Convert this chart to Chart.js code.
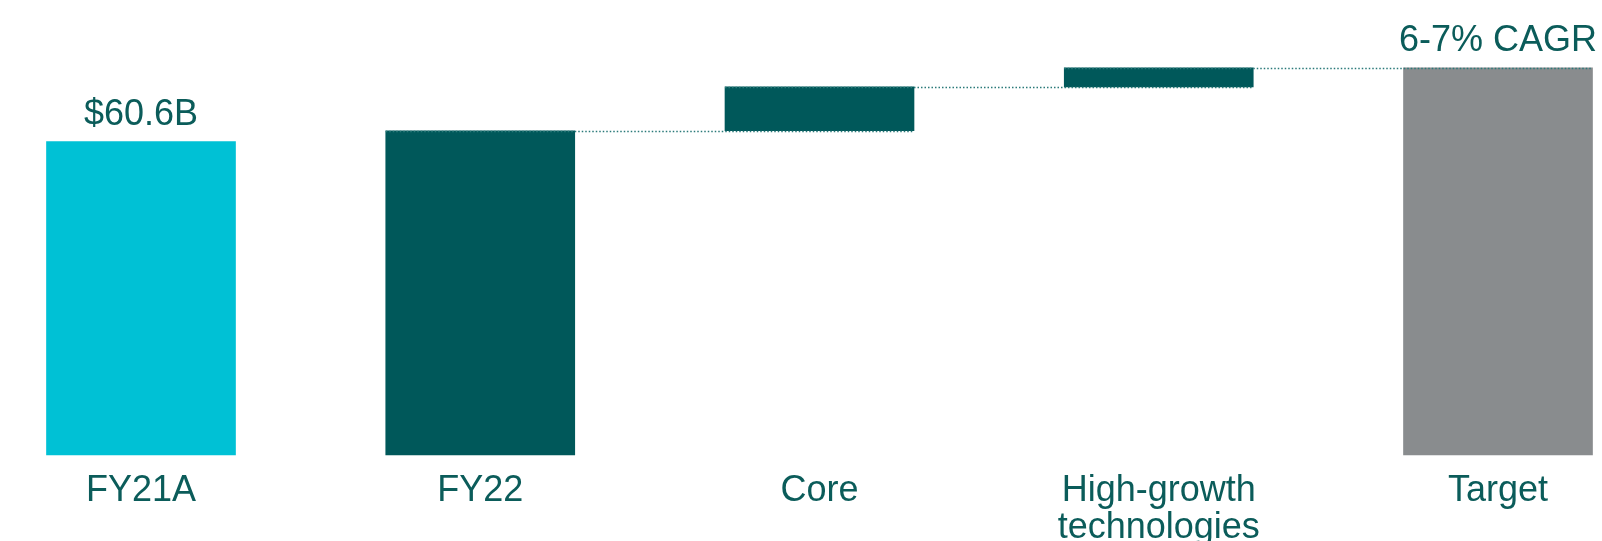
<!DOCTYPE html>
<html>
<head>
<meta charset="utf-8">
<script src="https://cdn.jsdelivr.net/npm/chart.js@4.4.0/dist/chart.umd.min.js"></script>
<style>
  html, body { margin: 0; padding: 0; background: #fff; overflow: hidden; }
  #wrap { width: 1602px; height: 566px; position: relative; }
</style>
</head>
<body>
<div id="wrap"><canvas id="bridge"></canvas></div>
<script>
// revenue bridge, $B
const categories = ['FY21A', 'FY22', 'Core', ['High-growth', 'technologies'], 'Target'];
const barStart = [0, 0, 62.7, 71.2, 0];
const barEnd = [60.6, 62.7, 71.2, 74.9, 74.9];
const topLabels = ['$60.6B', '', '', '', '6-7% CAGR'];

const TEAL = '#00585a';
const CYAN = '#00c1d5';
const GREY = '#898c8e';
const TEXT = '#0b5c5a';
const FONT = '"Liberation Sans", Arial, sans-serif';

const barColors = [CYAN, TEAL, TEAL, TEAL, GREY];

// dotted connector: from left of bar i to right of bar i+1 at bar i's top
const connectors = {
  id: 'connectors',
  afterDatasetsDraw(chart) {
    const ctx = chart.ctx;
    const bars = chart.getDatasetMeta(0).data;
    const y = chart.scales.y;
    ctx.save();
    ctx.strokeStyle = '#2a7a79';
    ctx.lineWidth = 1.5;
    ctx.setLineDash([1.5, 2]);
    for (let i = 1; i < bars.length - 1; i++) {
      const a = bars[i], b = bars[i + 1];
      const py = Math.round(y.getPixelForValue(barEnd[i])) + 0.5;
      ctx.beginPath();
      ctx.moveTo(a.x - a.width / 2, py);
      ctx.lineTo(b.x + b.width / 2, py);
      ctx.stroke();
    }
    ctx.restore();
  }
};

const valueLabels = {
  id: 'valueLabels',
  afterDatasetsDraw(chart) {
    const ctx = chart.ctx;
    const bars = chart.getDatasetMeta(0).data;
    ctx.save();
    ctx.font = '36px ' + FONT;
    ctx.fillStyle = TEXT;
    ctx.textAlign = 'center';
    ctx.textBaseline = 'alphabetic';
    bars.forEach((bar, i) => {
      if (!topLabels[i]) return;
      ctx.fillText(topLabels[i], bar.x, bar.y - 17);
    });
    ctx.restore();
  }
};

new Chart(document.getElementById('bridge'), {
  type: 'bar',
  data: {
    labels: categories,
    datasets: [{
      data: barStart.map((s, i) => [s, barEnd[i]]),
      backgroundColor: barColors,
      borderWidth: 0,
      borderSkipped: false,
      barThickness: 189,
      clip: false
    }]
  },
  options: {
    responsive: true,
    maintainAspectRatio: false,
    animation: false,
    layout: { padding: { left: 141, right: 104, top: 0, bottom: 1 } },
    plugins: { legend: { display: false }, tooltip: { enabled: false } },
    scales: {
      x: {
        offset: false,
        grid: { display: false, drawTicks: false },
        border: { display: false },
        ticks: {
          color: TEXT,
          padding: 18,
          maxRotation: 0,
          autoSkip: false,
          font: { family: FONT, size: 36, lineHeight: 1.03 }
        }
      },
      y: {
        display: false,
        min: 0,
        max: 88
      }
    }
  },
  plugins: [connectors, valueLabels]
});
</script>
</body>
</html>
